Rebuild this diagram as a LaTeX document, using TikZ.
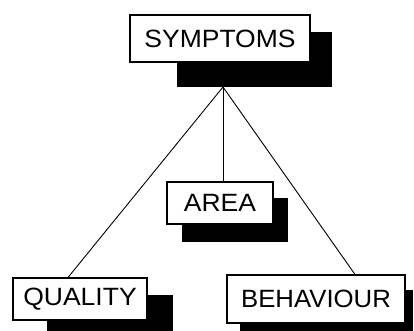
\documentclass[tikz,border=0pt]{standalone}
\usepackage{fontspec}
\setmainfont{Liberation Sans}
\usetikzlibrary{calc}
\begin{document}
\begin{tikzpicture}[x=1pt,y=-1pt,
  box/.style={draw=black,fill=white,line width=1.1pt,inner sep=0pt,
    font=\fontsize{25}{26}\selectfont},
  shadowbox/.style={fill=black},
  link/.style={draw=black,line width=0.9pt}]
\useasboundingbox[fill=white] (0,0) rectangle (414,331);
% shadows
\fill[shadowbox] (177,32) rectangle (332,87);
\fill[shadowbox] (182,198) rectangle (288,242);
\fill[shadowbox] (47,295) rectangle (173,331);
\fill[shadowbox] (240,290) rectangle (413,331);
% boxes
\node[box,minimum width=180pt,minimum height=47pt] (symptoms) at (220,38.5) {\scalebox{1.06}[1]{SYMPTOMS}};
\node[box,minimum width=106pt,minimum height=42pt] (area) at (220,203) {\scalebox{1.06}[1]{AREA}};
\node[box,minimum width=134pt,minimum height=42pt] (quality) at (80,299) {\scalebox{1.06}[1]{QUALITY}};
\node[box,minimum width=178pt,minimum height=48pt] (behaviour) at (316,299) {\scalebox{1.03}[1]{BEHAVIOUR}};
% connectors
\coordinate (hub) at (223,87);
\draw[link] (hub) -- ($(quality.north)+(-12,0)$);
\draw[link] (hub) -- (area.north -| hub);
\draw[link] (hub) -- ($(behaviour.north)+(39,0)$);
\end{tikzpicture}
\end{document}
